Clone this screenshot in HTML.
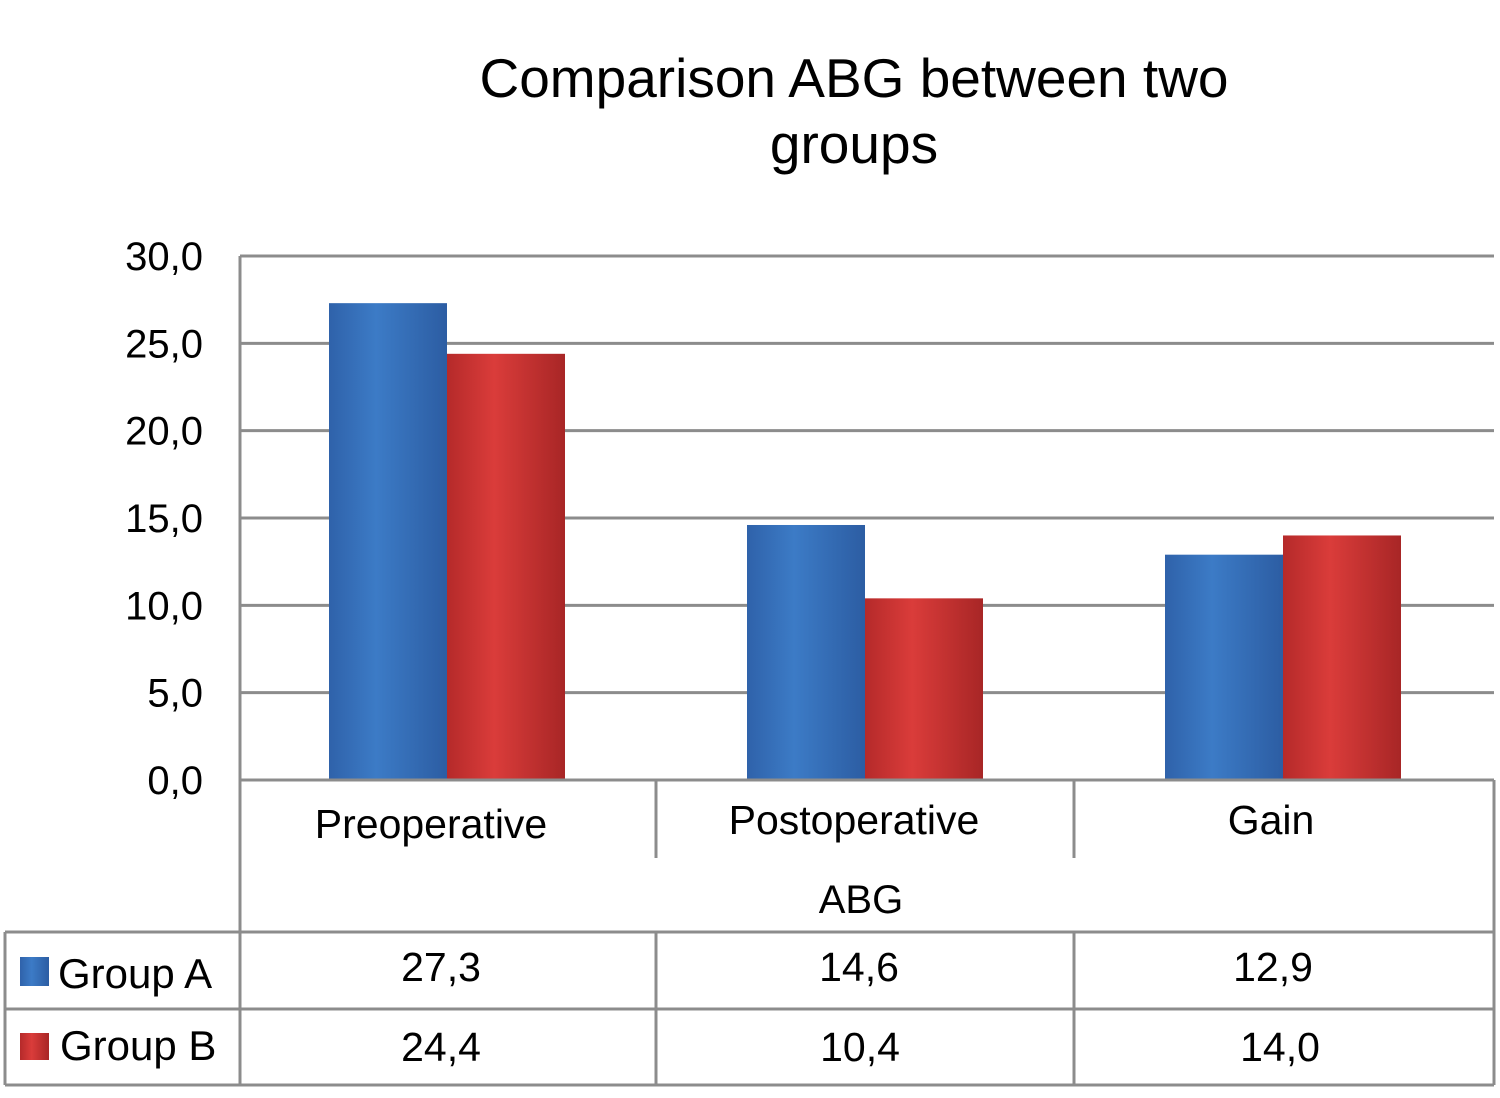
<!DOCTYPE html>
<html><head><meta charset="utf-8"><style>
body{margin:0;background:#fff}
svg text{font-family:"Liberation Sans",Arial,sans-serif;fill:#000}
</style></head><body>
<svg id="chart" width="1500" height="1093" viewBox="0 0 1500 1093" xmlns="http://www.w3.org/2000/svg">
<defs>
<linearGradient id="gA" x1="0" y1="0" x2="1" y2="0"><stop offset="0" stop-color="#2f62aa"/><stop offset="0.4" stop-color="#3c7bc6"/><stop offset="1" stop-color="#2c5da3"/></linearGradient>
<linearGradient id="gB" x1="0" y1="0" x2="1" y2="0"><stop offset="0" stop-color="#b52a2a"/><stop offset="0.4" stop-color="#da3c3a"/><stop offset="1" stop-color="#a82626"/></linearGradient>
</defs>
<text x="854" y="97" font-size="55" text-anchor="middle">Comparison ABG between two</text>
<text x="854" y="163" font-size="55" text-anchor="middle">groups</text>
<g id="grid"></g><g id="bars"></g><g id="table"></g>
</svg>
<script>
const categories=["Preoperative","Postoperative","Gain"];
const groupA=[27.3,14.6,12.9];
const groupB=[24.4,10.4,14.0];
const labelsA=["27,3","14,6","12,9"];
const labelsB=["24,4","10,4","14,0"];
const ticks=[0,5,10,15,20,25,30];
const tickLabels=["0,0","5,0","10,0","15,0","20,0","25,0","30,0"];

const NS="http://www.w3.org/2000/svg";
const X0=240,X1=1494,Y0=780,Y1=256,YMAX=30;
const catW=(X1-X0)/categories.length;
const y=v=>Y0-(v/YMAX)*(Y0-Y1);
const cx=i=>X0+catW*(i+0.5)-2;
function mk(tag,attrs,parent,text){const e=document.createElementNS(NS,tag);for(const k in attrs)e.setAttribute(k,attrs[k]);if(text!==undefined)e.textContent=text;parent.appendChild(e);return e;}
const grid=document.getElementById('grid'),bars=document.getElementById('bars'),table=document.getElementById('table');
const line='#8c8c8c';
ticks.forEach((t,i)=>{
  if(t>0){const l=mk('line',{x1:X0,x2:X1,y1:y(t),y2:y(t),stroke:line,'stroke-width':3},grid);
  
  }
  const tx=mk('text',{x:203,y:y(t)+14,'font-size':40,'text-anchor':'end'},grid,tickLabels[i]);
  
  
});
const bw=118;
const lblDx=[-16,-11,-12], valDxA=[-6,-6,-10], valDxB=[-6,-5,-3];
categories.forEach((c,i)=>{
  const a=mk('rect',{x:cx(i)-bw,y:y(groupA[i]),width:bw,height:Y0-y(groupA[i]),fill:'url(#gA)'},bars);
  
  
  const b=mk('rect',{x:cx(i),y:y(groupB[i]),width:bw,height:Y0-y(groupB[i]),fill:'url(#gB)'},bars);
  
  
  const lbl=mk('text',{x:cx(i)+lblDx[i],y:i===0?838:834,'font-size':41,'text-anchor':'middle'},table,c);
  
  
  const va=mk('text',{x:cx(i)+valDxA[i],y:981,'font-size':41,'text-anchor':'middle'},table,labelsA[i]);
  
  
  const vb=mk('text',{x:cx(i)+valDxB[i],y:1061,'font-size':41,'text-anchor':'middle'},table,labelsB[i]);
  
  
  if(i>0){
    const s1=mk('line',{x1:X0+catW*i-2,x2:X0+catW*i-2,y1:780,y2:858,stroke:line,'stroke-width':3},table);
    
    
    const s2=mk('line',{x1:X0+catW*i-2,x2:X0+catW*i-2,y1:932,y2:1085,stroke:line,'stroke-width':3},table);
    
    
  }
});
[[X0,Y1,X0,1085],[X0,780,X1,780],[X1,780,X1,1085],[5,932,X1,932],[5,1009,X1,1009],[5,1085,X1,1085],[5,932,5,1085]].forEach(p=>{
  const l=mk('line',{x1:p[0],y1:p[1],x2:p[2],y2:p[3],stroke:line,'stroke-width':3},table);
  
  
});
const ax=mk('text',{x:861,y:913,'font-size':40,'text-anchor':'middle'},table,'ABG');


const ka=mk('rect',{x:20,y:957,width:29,height:29,fill:'url(#gA)'},table);


const la=mk('text',{x:58,y:988,'font-size':42},table,'Group A');


const kb=mk('rect',{x:20,y:1033,width:29,height:27,fill:'url(#gB)'},table);


const lb=mk('text',{x:60,y:1060,'font-size':42},table,'Group B');


</script>
</body></html>
